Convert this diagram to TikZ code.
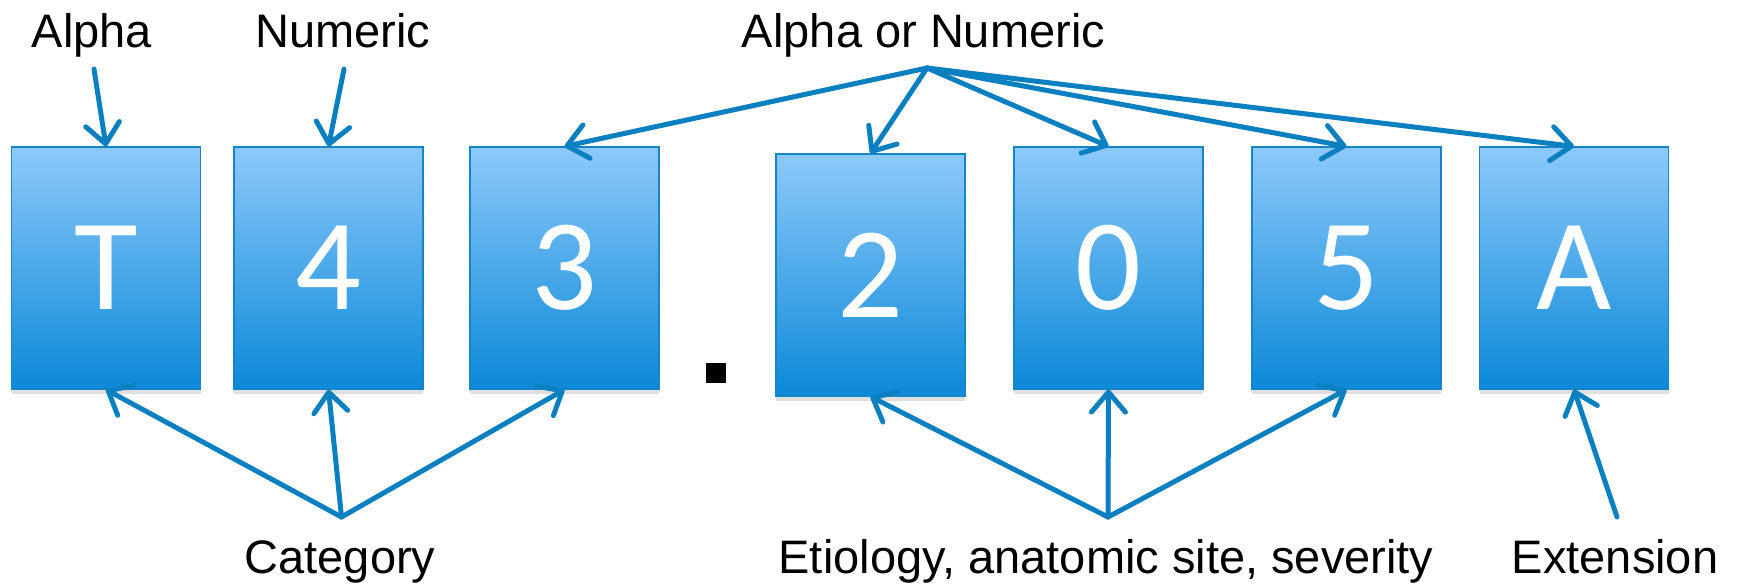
\documentclass[tikz,border=0pt]{standalone}
\usepackage{fontspec}
\setmainfont{Liberation Sans}
\newfontfamily\boxfont{Carlito}
\usetikzlibrary{arrows.meta,shadows}
\definecolor{boxtop}{RGB}{140,201,250}
\definecolor{boxbot}{RGB}{12,137,216}
\definecolor{boxline}{RGB}{22,132,200}
\definecolor{arrblue}{RGB}{10,128,192}
\begin{document}
\begin{tikzpicture}[x=0.5pt,y=-0.5pt,
    codebox/.style={rectangle,draw=boxline,line width=0.6pt,top color=boxtop,bottom color=boxbot,
      minimum width=94.5pt,minimum height=121pt,inner sep=0pt,text=white,
      font=\boxfont\fontsize{65}{65}\selectfont,
      drop shadow={shadow xshift=0pt,shadow yshift=-2.5pt,opacity=0.25}},
    lbl/.style={anchor=base,inner sep=0pt,font=\fontsize{23.5}{28}\selectfont},
    arr/.style={arrblue,line width=2.5pt,line cap=round,-{Straight Barb[length=10pt,width=17pt,round]}}]
        \useasboundingbox (0,0) rectangle (1738,584);

        % Cajas
        \node[codebox] (bT) at (106,268) {T};
        \node[codebox] (b4) at (328.5,268) {4};
        \node[codebox] (b3) at (564.5,268) {3};
        \node[fill=black,minimum size=10pt,inner sep=0pt] (dot) at (716,372.5) {};
        \node[codebox] (b2) at (870.5,275) {2};
        \node[codebox] (b0) at (1108.5,268) {0};
        \node[codebox] (b5) at (1346.5,268) {5};
        \node[codebox] (bA) at (1574,268) {A};

        % Etiquetas arriba
        \node[lbl] (alpha) at (92,47) {Alpha};
        \node[lbl] (numeric) at (343,47) {Numeric};
        \node[lbl] (alnum) at (923.5,47) {Alpha or Numeric};
        \coordinate (hA) at (94,69);
        \coordinate (hN) at (344,69);
        \coordinate (hAN) at (927,68);

        % Etiquetas abajo
        \node[lbl] (cat) at (340,573) {Category};
        \node[lbl] (etio) at (1106,573) {Etiology, anatomic site, severity};
        \node[lbl] (ext) at (1615,573) {Extension};
        \coordinate (hC) at (341.5,517);
        \coordinate (hE) at (1108,517);
        \coordinate (hX) at (1617,517);

        % Flechas
        \draw[arr] (hA) -- (bT.north);
        \draw[arr] (hN) -- (b4.north);
        \foreach \b in {b3,b2,b0,b5,bA}
          \draw[arr] (hAN) -- (\b.north);
        \foreach \b in {bT,b4,b3}
          \draw[arr] (hC) -- (\b.south);
        \foreach \b in {b2,b0,b5}
          \draw[arr] (hE) -- (\b.south);
        \draw[arr] (hX) -- (bA.south);
\end{tikzpicture}
\end{document}
